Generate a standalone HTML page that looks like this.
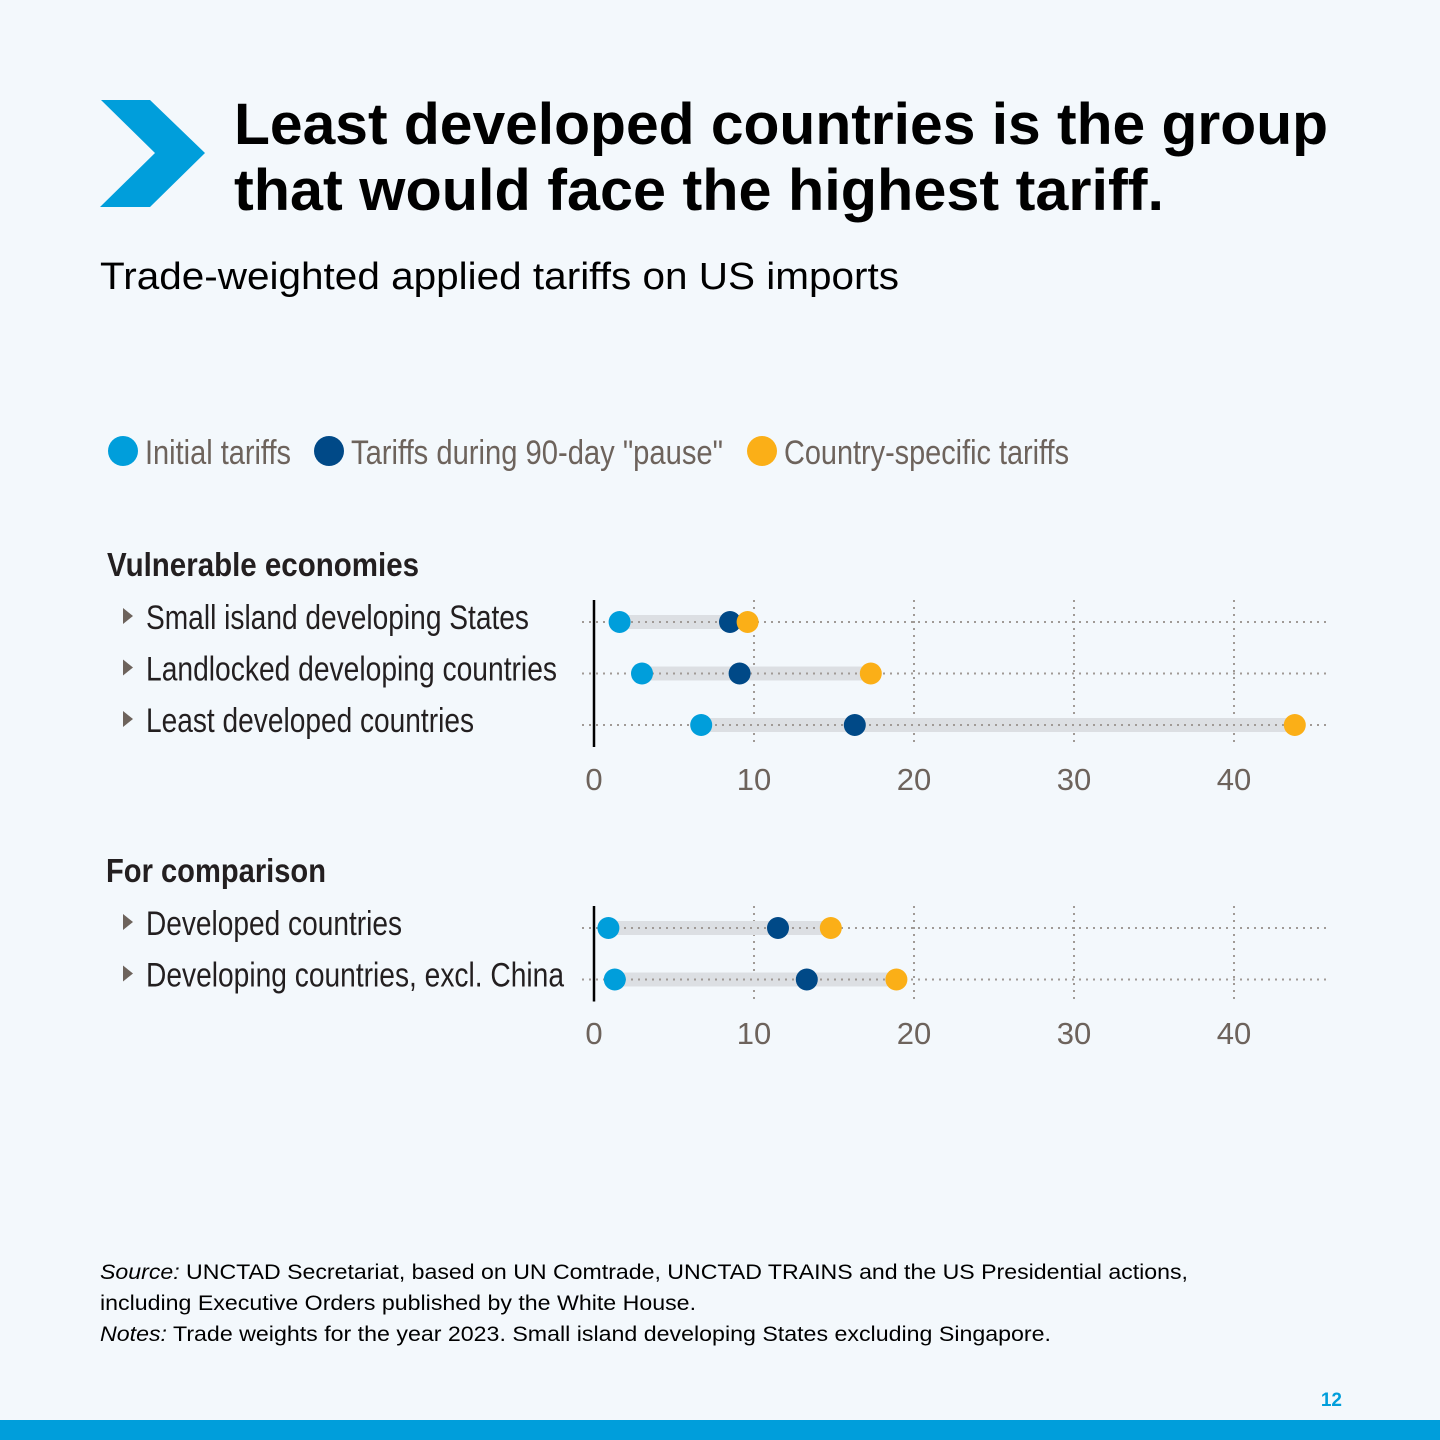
<!DOCTYPE html>
<html><head><meta charset="utf-8"><style>
html,body{margin:0;padding:0;background:#f3f8fc;}
svg{display:block;}
</style></head><body>
<svg id="chart" width="1440" height="1440" viewBox="0 0 1440 1440" xmlns="http://www.w3.org/2000/svg">
<rect x="0" y="0" width="1440" height="1440" fill="#f3f8fc"/>
<polygon points="101,100 150,100 205,153 150,207 100,207 155,153" fill="#009edb"/>
<text x="234" y="144" font-family="Liberation Sans, sans-serif" font-weight="bold" font-size="58" textLength="1094" lengthAdjust="spacingAndGlyphs" fill="#000">Least developed countries is the group</text>
<text x="234" y="210" font-family="Liberation Sans, sans-serif" font-weight="bold" font-size="58" textLength="930" lengthAdjust="spacingAndGlyphs" fill="#000">that would face the highest tariff.</text>
<text x="100" y="289" font-family="Liberation Sans, sans-serif" font-size="38" textLength="799" lengthAdjust="spacingAndGlyphs" fill="#000">Trade-weighted applied tariffs on US imports</text>

<g font-family="Liberation Sans Narrow, Liberation Sans, sans-serif" font-size="34" fill="#6d635c">
<circle cx="123" cy="451" r="15" fill="#009edb"/>
<text x="145" y="464" textLength="146" lengthAdjust="spacingAndGlyphs">Initial tariffs</text>
<circle cx="329" cy="451" r="15" fill="#004987"/>
<text x="351" y="464" textLength="372" lengthAdjust="spacingAndGlyphs">Tariffs during 90-day "pause"</text>
<circle cx="762" cy="451" r="15" fill="#fbaf17"/>
<text x="784" y="464" textLength="285" lengthAdjust="spacingAndGlyphs">Country-specific tariffs</text>
</g>

<text x="107" y="576" font-family="Liberation Sans Narrow, Liberation Sans, sans-serif" font-weight="bold" font-size="33" textLength="312" lengthAdjust="spacingAndGlyphs" fill="#231f20">Vulnerable economies</text>
<text x="106" y="882" font-family="Liberation Sans Narrow, Liberation Sans, sans-serif" font-weight="bold" font-size="33" textLength="220" lengthAdjust="spacingAndGlyphs" fill="#231f20">For comparison</text>

<g id="plots"></g>

<g font-family="Liberation Sans, sans-serif" font-size="21" fill="#000">
<text x="100" y="1279" textLength="1088" lengthAdjust="spacingAndGlyphs"><tspan font-style="italic">Source:</tspan> UNCTAD Secretariat, based on UN Comtrade, UNCTAD TRAINS and the US Presidential actions,</text>
<text x="100" y="1310" textLength="596" lengthAdjust="spacingAndGlyphs">including Executive Orders published by the White House.</text>
<text x="100" y="1341" textLength="951" lengthAdjust="spacingAndGlyphs"><tspan font-style="italic">Notes:</tspan> Trade weights for the year 2023. Small island developing States excluding Singapore.</text>
</g>
<text x="1342" y="1406" text-anchor="end" font-family="Liberation Sans, sans-serif" font-weight="bold" font-size="19" fill="#009edb">12</text>
<rect x="0" y="1420" width="1440" height="20" fill="#009edb"/>
</svg>
<script>
const categoriesA = ["Small island developing States","Landlocked developing countries","Least developed countries"];
const initialA = [1.6, 3.0, 6.7];
const pauseA = [8.5, 9.1, 16.3];
const countryA = [9.6, 17.3, 43.8];
const categoriesB = ["Developed countries","Developing countries, excl. China"];
const initialB = [0.9, 1.3];
const pauseB = [11.5, 13.3];
const countryB = [14.8, 18.9];
const ticks = [0, 10, 20, 30, 40];

const NS = "http://www.w3.org/2000/svg";
const root = document.getElementById("plots");
const xScale = v => 594 + v * 16;
function mk(tag, attrs, parent) {
  const e = document.createElementNS(NS, tag);
  for (const k in attrs) e.setAttribute(k, attrs[k]);
  parent.appendChild(e);
  return e;
}
const labelWidths = {"Small island developing States":383,"Landlocked developing countries":411,"Least developed countries":328,"Developed countries":256,"Developing countries, excl. China":418};
function panel(name, cats, ini, pau, cty, y0, axisY) {
  const g = mk("g", {}, root);
  
  
  const rowY = i => y0 + i * 51.5;
  const top = rowY(0) - 22, bot = rowY(cats.length - 1) + 22;
  ticks.forEach(t => {
    if (t === 0) return;
    const l = mk("line", {x1: xScale(t), x2: xScale(t), y1: top, y2: bot, stroke: "#a09a96", "stroke-width": 2, "stroke-dasharray": "2 5"}, g);
    
    
  });
  ticks.forEach(t => {
    const tx = mk("text", {x: xScale(t), y: axisY, "text-anchor": "middle", "font-family": "Liberation Sans Narrow, Liberation Sans, sans-serif", "font-size": 31, fill: "#6d635c"}, g);
    tx.textContent = t;
    
    
  });
  cats.forEach((c, i) => {
    const y = rowY(i);
    const lab = mk("text", {x: 146, y: y + 7, "font-family": "Liberation Sans Narrow, Liberation Sans, sans-serif", "font-size": 34, fill: "#231f20", textLength: labelWidths[c], lengthAdjust: "spacingAndGlyphs"}, g);
    lab.textContent = c;
    
    
    const tri = mk("polygon", {points: `123,${y-14} 133,${y-6} 123,${y+2}`, fill: "#6d635c"}, g);
    
    
    const bar = mk("line", {x1: xScale(ini[i]), x2: xScale(Math.max(pau[i], cty[i])), y1: y, y2: y, stroke: "#dcdfe3", "stroke-width": 14}, g);
    
    
    const gl = mk("line", {x1: 582, x2: 1326, y1: y, y2: y, stroke: "#a09a96", "stroke-width": 2, "stroke-dasharray": "2 5"}, g);
    
    
    [[ini, "#009edb", "initial"], [pau, "#004987", "pause"], [cty, "#fbaf17", "country"]].forEach(([arr, col, nm]) => {
      const d = mk("circle", {cx: xScale(arr[i]), cy: y, r: 11, fill: col}, g);
      
      
    });
  });
  const ax = mk("line", {x1: 594, x2: 594, y1: top, y2: bot, stroke: "#000", "stroke-width": 2.5}, g);
  
  
}
panel("panel-vulnerable", categoriesA, initialA, pauseA, countryA, 622, 790);
panel("panel-comparison", categoriesB, initialB, pauseB, countryB, 928, 1044);
</script>
</body></html>
